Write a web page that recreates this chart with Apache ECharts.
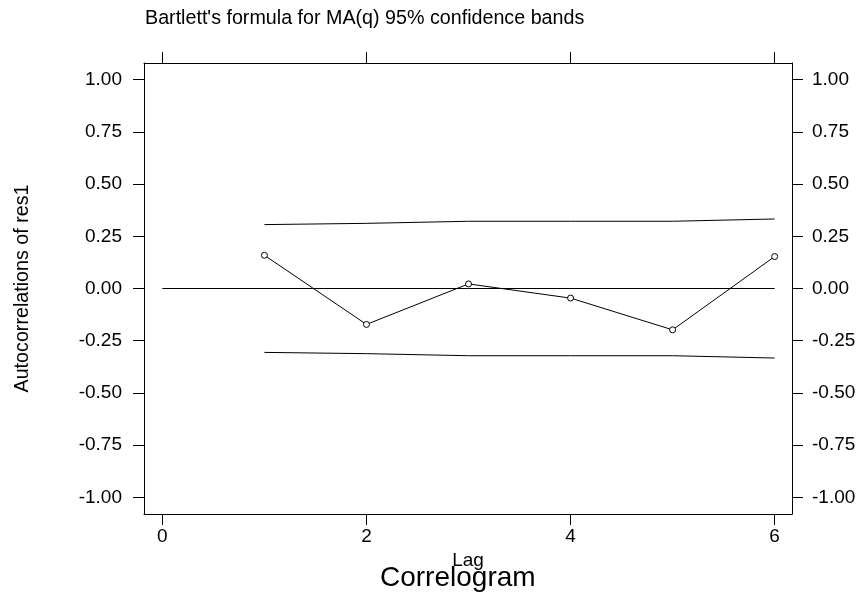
<!DOCTYPE html>
<html><head><meta charset="utf-8">
<script src="https://cdn.jsdelivr.net/npm/echarts@6/dist/echarts.min.js"></script>
<style>html,body{margin:0;padding:0;background:#fff}#c{width:861px;height:596px}</style>
</head><body><div id="c"></div>
<script>
var lags = [1, 2, 3, 4, 5, 6];
var acf = [0.159, -0.172, 0.022, -0.046, -0.198, 0.153];
var bandUpper = [0.306, 0.312, 0.322, 0.322, 0.322, 0.333];
var bandLower = [-0.306, -0.312, -0.322, -0.322, -0.322, -0.333];
var xTicks = [0, 2, 4, 6];
var yTicks = [-1, -0.75, -0.5, -0.25, 0, 0.25, 0.5, 0.75, 1];
var zeroLine = [[0, 0], [6, 0]];

var FONT = 'Liberation Sans, Arial, Helvetica, sans-serif';
var chart = echarts.init(document.getElementById('c'), null, {renderer: 'canvas'});
function pairs(xs, ys) { return xs.map(function (x, i) { return [x, ys[i]]; }); }
var lineStyle = {color: '#000', width: 1};
var axisLine = {show: true, onZero: false, lineStyle: {color: '#000', width: 1}};
var tick = {show: true, inside: false, length: 11, lineStyle: {color: '#000', width: 1}};

var option = {
  animation: false,
  backgroundColor: '#fff',
  textStyle: {fontFamily: FONT},
  title: [
    {text: "Bartlett's formula for MA(q) 95% confidence bands", left: 145, top: 9, padding: 0,
     textStyle: {fontFamily: FONT, fontSize: 19.7, fontWeight: 'normal', color: '#000'}},
    {text: 'Correlogram', left: 380, top: 564, padding: 0,
     textStyle: {fontFamily: FONT, fontSize: 28, fontWeight: 'normal', color: '#000'}}
  ],
  grid: {left: 144, right: 69, top: 63, bottom: 82, containLabel: false},
  xAxis: [
    {type: 'value', position: 'bottom', min: -0.18, max: 6.17,
     name: 'Lag', nameLocation: 'middle', nameGap: 35,
     nameTextStyle: {fontFamily: FONT, fontSize: 19, color: '#000'},
     axisLine: axisLine, splitLine: {show: false},
     axisTick: Object.assign({customValues: xTicks}, tick),
     axisLabel: {customValues: xTicks, fontFamily: FONT, fontSize: 19, color: '#000', margin: 13}},
    {type: 'value', position: 'top', min: -0.18, max: 6.17,
     axisLine: axisLine, splitLine: {show: false},
     axisTick: Object.assign({customValues: xTicks}, tick),
     axisLabel: {show: false}}
  ],
  yAxis: [
    {type: 'value', position: 'left', min: -1.08, max: 1.08,
     name: 'Autocorrelations of res1', nameLocation: 'middle', nameGap: 111, nameRotate: 90,
     nameTextStyle: {fontFamily: FONT, fontSize: 19.7, color: '#000'},
     axisLine: axisLine, splitLine: {show: false},
     axisTick: Object.assign({customValues: yTicks}, tick),
     axisLabel: {customValues: yTicks, fontFamily: FONT, fontSize: 19, color: '#000', margin: 22,
       formatter: function (v) { return v.toFixed(2); }}},
    {type: 'value', position: 'right', min: -1.08, max: 1.08,
     axisLine: axisLine, splitLine: {show: false},
     axisTick: Object.assign({customValues: yTicks}, tick),
     axisLabel: {customValues: yTicks, fontFamily: FONT, fontSize: 19, color: '#000', margin: 20,
       formatter: function (v) { return v.toFixed(2); }}}
  ],
  series: [
    {type: 'line', name: 'zero', data: zeroLine, symbol: 'none', lineStyle: lineStyle, silent: true},
    {type: 'line', name: 'upper', data: pairs(lags, bandUpper), symbol: 'none', lineStyle: lineStyle, silent: true},
    {type: 'line', name: 'lower', data: pairs(lags, bandLower), symbol: 'none', lineStyle: lineStyle, silent: true},
    {type: 'line', name: 'acf', data: pairs(lags, acf), symbol: 'circle', symbolSize: 6, showAllSymbol: true,
     itemStyle: {color: '#fff', borderColor: '#000', borderWidth: 1},
     lineStyle: lineStyle, silent: true}
  ]
};
chart.setOption(option);
</script></body></html>
